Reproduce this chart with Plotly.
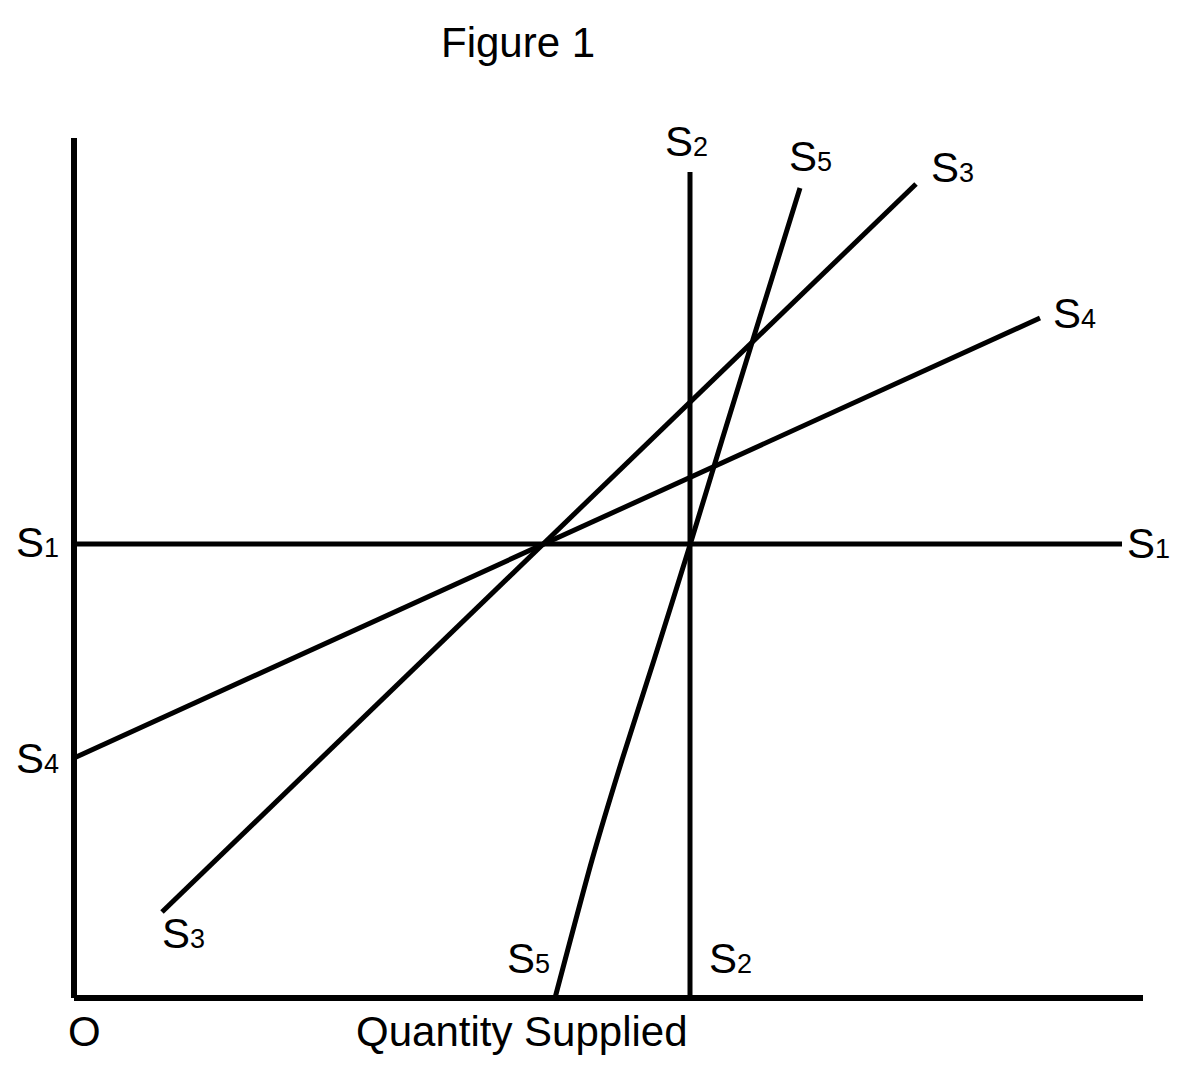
# figure1.py
import plotly.graph_objects as go

# Eixos (origem O no canto inferior esquerdo)
axis_y_x = [0, 0]
axis_y_y = [860, 0]
axis_x_x = [0, 1069]
axis_x_y = [0, 0]

# Curvas de oferta
s1_x = [0, 1048]
s1_y = [454, 454]

s2_x = [616, 616]
s2_y = [0, 826]

s3_x = [88, 842]
s3_y = [86, 814]

s4_x = [0, 966]
s4_y = [240, 680]

s5_x = [481, 518, 548, 580, 616, 648, 685, 726]
s5_y = [0, 138, 238, 338, 453, 558, 678, 810]

# Rótulos
label_text = ['S1', 'S1', 'S2', 'S2', 'S3', 'S3', 'S4', 'S4', 'S5', 'S5']
label_x = [-37, 1074, 612, 656, 878, 109, 1000, -37, 736, 454]
label_y = [456, 455, 857, 40, 831, 65, 685, 240, 842, 40]

title_text = 'Figure 1'
xlabel_text = 'Quantity Supplied'
origin_text = 'O'

FONT = 'Liberation Sans, Arial, sans-serif'


def sub_label(s):
    # letra grande, número menor na mesma linha de base
    return s[0] + "<span style='font-size:27px'>" + s[1:] + "</span>"


def add_line(fig, x, y, width, shape='linear'):
    fig.add_trace(go.Scatter(x=x, y=y, mode='lines',
                             line=dict(color='black', width=width, shape=shape,
                                       smoothing=0.6 if shape == 'spline' else None),
                             hoverinfo='skip', showlegend=False))


fig = go.Figure()

add_line(fig, axis_y_x, axis_y_y, 6)
add_line(fig, axis_x_x, axis_x_y, 6)
add_line(fig, s1_x, s1_y, 5)
add_line(fig, s2_x, s2_y, 5)
add_line(fig, s3_x, s3_y, 5)
add_line(fig, s4_x, s4_y, 5)
add_line(fig, s5_x, s5_y, 5, shape='spline')

for t, x, y in zip(label_text, label_x, label_y):
    fig.add_annotation(x=x, y=y, text=sub_label(t), showarrow=False,
                       xanchor='center', yanchor='middle',
                       font=dict(size=42, color='black', family=FONT))

fig.add_annotation(x=444, y=956, text=title_text, showarrow=False,
                   xanchor='center', yanchor='middle',
                   font=dict(size=42, color='black', family=FONT))
fig.add_annotation(x=448, y=-33, text=xlabel_text, showarrow=False,
                   xanchor='center', yanchor='middle',
                   font=dict(size=42, color='black', family=FONT))
fig.add_annotation(x=10, y=-33, text=origin_text, showarrow=False,
                   xanchor='center', yanchor='middle',
                   font=dict(size=42, color='black', family=FONT))

# a página tem 8px de margem no body, por isso os ranges estão deslocados
fig.update_xaxes(range=[-66, 1134], visible=False, fixedrange=True)
fig.update_yaxes(range=[-86, 990], visible=False, fixedrange=True)
fig.update_layout(width=1200, height=1076,
                  margin=dict(l=0, r=0, t=0, b=0),
                  paper_bgcolor='white', plot_bgcolor='white')

fig.write_html("out.html")
